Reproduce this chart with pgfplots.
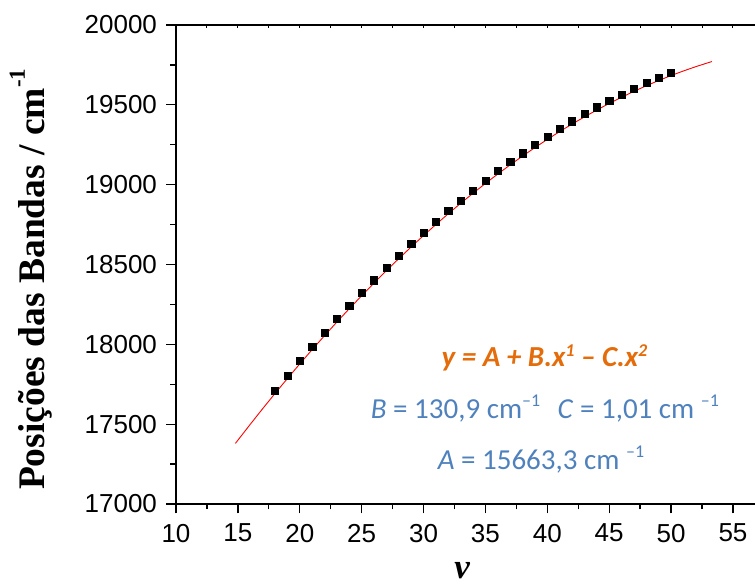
\documentclass[border=0pt]{standalone}
\usepackage{fontspec}
\setmainfont{Liberation Sans}
\newfontfamily\serif{Liberation Serif}
\newfontfamily\calibri{Carlito}
\usepackage{pgfplots}
\pgfplotsset{compat=1.18}
\definecolor{eqorange}{HTML}{E46C0A}
\definecolor{eqblue}{HTML}{4F81BD}
\newcommand\bsup[1]{\raisebox{12pt}{\fontsize{18}{18}\selectfont #1}}
\newcommand\osup[1]{\raisebox{10pt}{\fontsize{18}{18}\selectfont #1}}
\begin{document}
\begin{tikzpicture}
\begin{axis}[
  at={(176pt,81pt)}, anchor=south west,
  scale only axis, width=579pt, height=479pt,
  xmin=10, xmax=56.78, ymin=17000, ymax=20000,
  axis x line*=bottom, axis y line*=left,
  axis line style={line width=1.6pt},
  xtick={10,15,...,55}, minor xtick={12.5,17.5,...,52.5},
  ytick={17000,17500,...,20000}, minor ytick={17250,17750,...,19750},
  tick align=outside,
  major tick length=9.5pt, minor tick length=5.5pt,
  every tick/.style={black, line width=1.3pt},
  scaled y ticks=false,
  /pgf/number format/assume math mode=true,
  /pgf/number format/1000 sep={},
  ticklabel style={font=\fontsize{26}{26}\selectfont},
  yticklabel style={xshift=-6pt},
  xticklabel style={yshift=-7pt},
  ylabel={\serif\bfseries\fontsize{37.5}{37.5}\selectfont Posições das Bandas / cm\raisebox{20pt}{\fontsize{23}{23}\selectfont -1}},
  ylabel style={at={(rel axis cs:-0.2263,0.022)}, anchor=base west, rotate=0},
  xlabel={\serif\bfseries\itshape\fontsize{35}{35}\selectfont ν},
  xlabel style={at={(rel axis cs:0.494,-0.155)}, anchor=base, inner sep=0pt},
  clip=false,
]
\addplot[red, line width=0.9pt] coordinates {
(14.8,17379.4) (15,17399.6) (16,17499.1) (17,17596.7) (18,17692.3) (19,17785.8)
(20,17877.3) (21,17966.8) (22,18054.3) (23,18139.7) (24,18223.1) (25,18304.6)
(26,18383.9) (27,18461.3) (28,18536.7) (29,18610.0) (30,18681.3) (31,18750.6)
(32,18817.9) (33,18883.1) (34,18946.3) (35,19007.6) (36,19066.7) (37,19123.9)
(38,19179.1) (39,19232.2) (40,19283.3) (41,19332.4) (42,19379.5) (43,19424.5)
(44,19467.5) (45,19508.6) (46,19547.5) (47,19584.5) (48,19619.5) (49,19652.4)
(50,19683.3) (51,19712.2) (52,19739.1) (53,19763.9) (53.3,19771.0)
};
\addplot[only marks, mark=square*, mark size=3.6pt, mark options={fill=black, draw=black}] coordinates {
(18,17710) (19,17803) (20,17896) (21,17985) (22,18072) (23,18158) (24,18241)
(25,18322) (26,18402) (27,18479) (28,18555) (29,18628) (30,18699) (31,18769)
(32,18836) (33,18901) (34,18964) (35,19025) (36,19085) (37,19142) (38,19197)
(39,19250) (40,19301) (41,19350) (42,19397) (43,19442) (44,19485) (45,19526)
(46,19565) (47,19602) (48,19637) (49,19670) (50,19701)
};
\node[anchor=base, text=eqorange, font=\calibri\bfseries\itshape\fontsize{29}{29}\selectfont]
  at (axis cs:39.77,17864) {y = A + B.x\osup{1} – C.x\osup{2}};
\node[anchor=base, text=eqblue, font=\calibri\fontsize{29}{29}\selectfont]
  at (axis cs:39.81,17537) {\textit{B} = 130,9 cm\bsup{–1}\hspace{0.6em}\textit{C} = 1,01 cm \bsup{–1}};
\node[anchor=base, text=eqblue, font=\calibri\fontsize{29}{29}\selectfont]
  at (axis cs:39.49,17213) {\textit{A} = 15663,3 cm \bsup{–1}};
\end{axis}
\begin{axis}[
  at={(176pt,81pt)}, anchor=south west,
  scale only axis, width=579pt, height=479pt,
  xmin=10, xmax=56.78, ymin=17000, ymax=20000,
  axis x line*=top, axis y line=none,
  axis line style={line width=1.6pt},
  xtick={10,12.5,...,55}, xticklabels={},
  ytick=\empty,
  tick align=inside, major tick length=3pt,
  every tick/.style={black, line width=1pt},
]
\end{axis}
\pgfresetboundingbox
\path[use as bounding box] (0,0) rectangle (755pt,585pt);
\end{tikzpicture}
\end{document}
